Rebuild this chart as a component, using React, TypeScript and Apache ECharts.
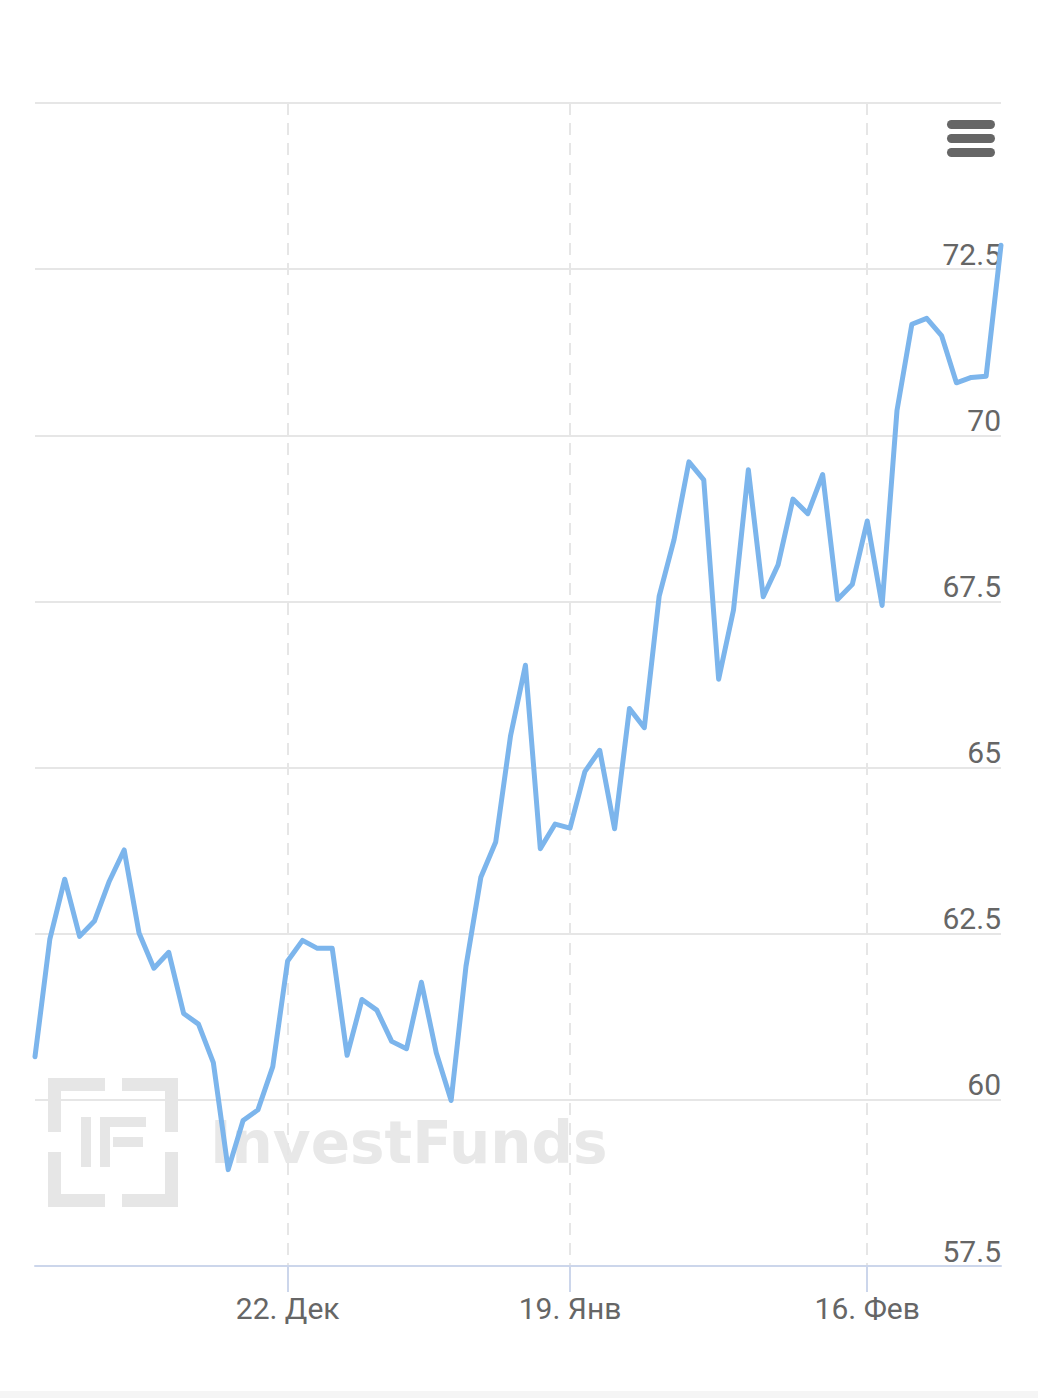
import React, { useEffect, useRef } from "react";
import * as echarts from "echarts";

const categories: string[] = [
  "27. Ноя", "28. Ноя", "01. Дек", "02. Дек", "03. Дек", "04. Дек", "05. Дек",
  "08. Дек", "09. Дек", "10. Дек", "11. Дек", "12. Дек", "15. Дек", "16. Дек",
  "17. Дек", "18. Дек", "19. Дек", "22. Дек", "23. Дек", "24. Дек", "25. Дек",
  "26. Дек", "29. Дек", "30. Дек", "31. Дек", "02. Янв", "05. Янв", "06. Янв",
  "07. Янв", "08. Янв", "09. Янв", "12. Янв", "13. Янв", "14. Янв", "15. Янв",
  "16. Янв", "19. Янв", "20. Янв", "21. Янв", "22. Янв", "23. Янв", "26. Янв",
  "27. Янв", "28. Янв", "29. Янв", "30. Янв", "02. Фев", "03. Фев", "04. Фев",
  "05. Фев", "06. Фев", "09. Фев", "10. Фев", "11. Фев", "12. Фев", "13. Фев",
  "16. Фев", "17. Фев", "18. Фев", "19. Фев", "20. Фев", "23. Фев", "24. Фев",
  "25. Фев", "26. Фев", "27. Фев",
];

const values: number[] = [
  60.65, 62.42, 63.32, 62.46, 62.69, 63.29, 63.76, 62.51, 61.98, 62.22,
  61.3, 61.14, 60.56, 58.95, 59.69, 59.85, 60.5, 62.09, 62.4, 62.28,
  62.28, 60.67, 61.51, 61.35, 60.88, 60.77, 61.77, 60.71, 59.99, 62.01,
  63.35, 63.88, 65.48, 66.54, 63.78, 64.15, 64.09, 64.94, 65.26, 64.08,
  65.89, 65.6, 67.58, 68.43, 69.6, 69.33, 66.33, 67.37, 69.48, 67.57,
  68.05, 69.04, 68.82, 69.41, 67.53, 67.76, 68.71, 67.44, 70.37, 71.67,
  71.76, 71.5, 70.79, 70.87, 70.89, 72.86,
];

const tickLabels: string[] = ["22. Дек", "19. Янв", "16. Фев"];

const yMin = 57.5;
const yMax = 75;
const yStep = 2.5;

export default function App() {
  const ref = useRef<HTMLDivElement>(null);

  useEffect(() => {
    if (!ref.current) return;
    const chart = echarts.init(ref.current, undefined, { renderer: "svg" });
    const isTick = (_i: number, v: string) => tickLabels.includes(v);
    const wm = "#e6e6e6";
    const logoX = 48;
    const logoY = 1078;
    const bar = 13;
    const logoRects = [
      // outer brackets
      [0, 0, 57, bar], [0, 0, bar, 54],
      [74, 0, 56, bar], [117, 0, bar, 54],
      [0, 74, bar, 55], [0, 116, 57, bar],
      [117, 74, bar, 55], [74, 116, 56, bar],
      // I
      [33, 39, 10, 50],
      // F
      [52, 39, 10, 50], [52, 39, 46, 10], [65, 59, 30, 10],
    ].map(([x, y, w, h]) => ({
      type: "rect",
      z: -10,
      silent: true,
      shape: { x: logoX + x, y: logoY + y, width: w, height: h },
      style: { fill: wm },
    }));

    chart.setOption({
      animation: false,
      backgroundColor: "#ffffff",
      grid: { left: 35, right: 37, top: 103, bottom: 132, containLabel: false },
      xAxis: {
        type: "category",
        data: categories,
        boundaryGap: false,
        axisLine: { lineStyle: { color: "#ccd6eb", width: 2 } },
        axisTick: {
          show: true,
          interval: isTick,
          length: 26,
          lineStyle: { color: "#ccd6eb", width: 2 },
        },
        axisLabel: {
          interval: isTick,
          margin: 27,
          fontSize: 30,
          color: "#666666",
          fontFamily: "Roboto",
        },
        splitLine: {
          show: true,
          interval: isTick,
          lineStyle: { color: "#e6e6e6", width: 2, type: [12, 8] },
        },
      },
      yAxis: {
        type: "value",
        position: "right",
        min: yMin,
        max: yMax,
        interval: yStep,
        axisLine: { show: false },
        axisTick: { show: false },
        axisLabel: {
          inside: true,
          align: "right",
          verticalAlign: "bottom",
          margin: 0,
          fontSize: 30,
          color: "#666666",
          fontFamily: "Roboto",
          formatter: (v: number) => (v >= yMax ? "" : String(v)),
        },
        splitLine: { lineStyle: { color: "#e6e6e6", width: 2 } },
      },
      series: [
        {
          type: "line",
          data: values,
          showSymbol: false,
          symbol: "none",
          lineStyle: { color: "#7cb5ec", width: 5, join: "round", cap: "round" },
          z: 3,
        },
      ],
      graphic: [
        ...logoRects,
        {
          type: "text",
          z: -10,
          silent: true,
          x: 210,
          y: 1114,
          style: {
            text: "InvestFunds",
            fontSize: 58,
            fontWeight: "bold",
            fontFamily: "DejaVu Sans",
            fill: "#e8e8e8",
          },
        },
        ...[120, 134, 148].map((y) => ({
          type: "rect",
          silent: true,
          shape: { x: 947, y, width: 48, height: 9, r: 4.5 },
          style: { fill: "#666666" },
        })),
        {
          type: "rect",
          silent: true,
          shape: { x: 0, y: 1391, width: 1038, height: 7 },
          style: { fill: "#f5f5f5" },
        },
      ],
    });
    return () => chart.dispose();
  }, []);

  return (
    <div
      ref={ref}
      style={{ position: "fixed", left: 0, top: 0, width: 1038, height: 1398 }}
    />
  );
}
